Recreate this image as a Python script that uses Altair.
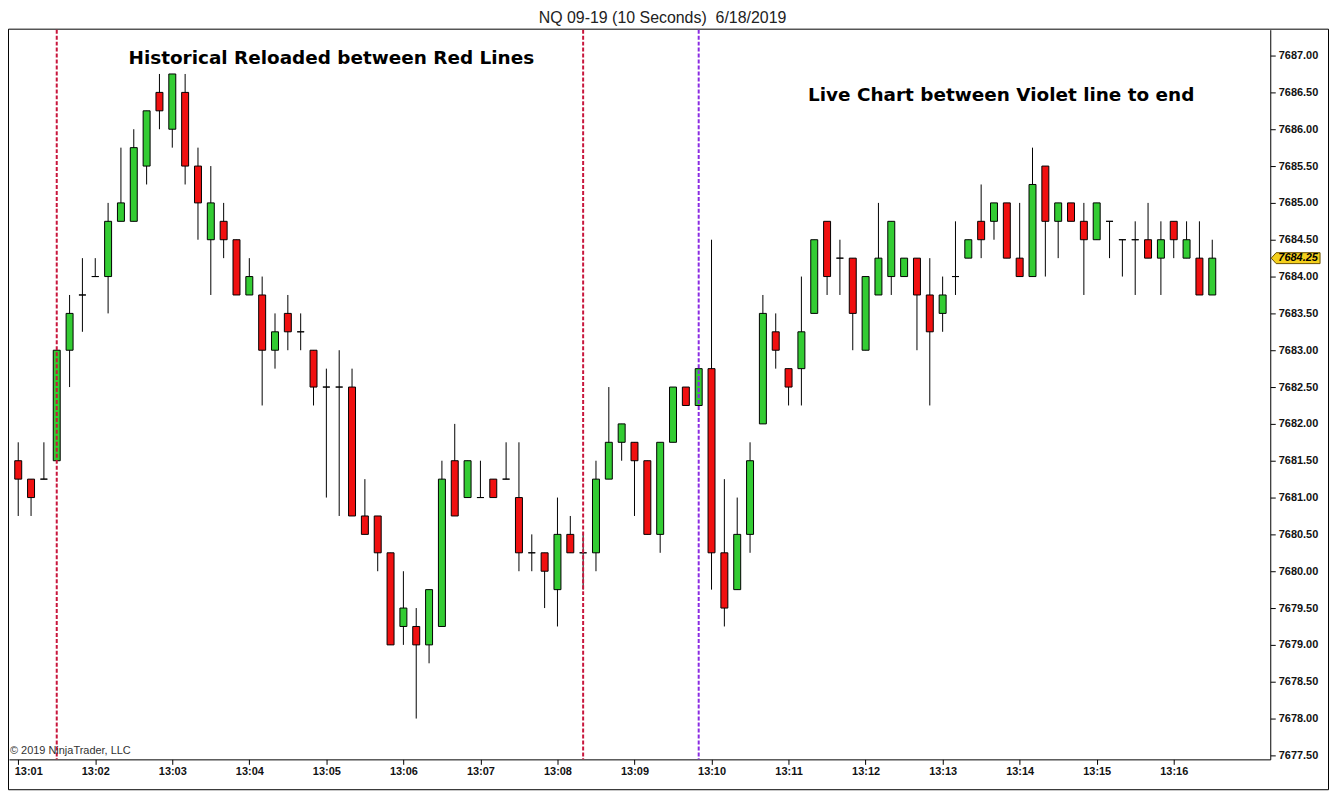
import altair as alt
import pandas as pd

# ---- data (10-second bars, NQ 09-19, 6/18/2019) ----
opens = [7681.50, 7681.25, 7681.25, 7681.50, 7683.00, 7683.75, 7684.00, 7684.00, 7684.75, 7684.75,
         7685.50, 7686.50, 7686.00, 7686.50, 7685.50, 7684.50, 7684.75, 7684.50, 7683.75, 7683.75,
         7683.00, 7683.50, 7683.25, 7683.00, 7682.50, 7682.50, 7682.50, 7680.75, 7680.75, 7680.25,
         7679.25, 7679.25, 7679.00, 7679.25, 7681.50, 7681.00, 7681.00, 7681.25, 7681.25, 7681.00,
         7680.25, 7680.25, 7679.75, 7680.50, 7680.25, 7680.25, 7681.25, 7681.75, 7681.75, 7681.50,
         7680.50, 7681.75, 7682.50, 7682.25, 7682.75, 7680.25, 7679.75, 7680.50, 7682.00, 7683.25,
         7682.75, 7682.75, 7683.50, 7684.75, 7684.25, 7684.25, 7683.00, 7683.75, 7684.00, 7684.00,
         7684.25, 7683.75, 7683.50, 7684.00, 7684.25, 7684.75, 7684.75, 7685.00, 7684.25, 7684.00,
         7685.50, 7684.75, 7685.00, 7684.75, 7684.50, 7684.75, 7684.50, 7684.50, 7684.50, 7684.25,
         7684.75, 7684.25, 7684.25, 7683.75]
highs = [7681.75, 7681.25, 7681.75, 7683.00, 7683.75, 7684.25, 7684.25, 7685.00, 7685.75, 7686.00,
         7686.25, 7686.75, 7686.75, 7686.75, 7685.75, 7685.50, 7685.00, 7684.50, 7684.25, 7684.00,
         7683.50, 7683.75, 7683.50, 7683.00, 7682.75, 7683.00, 7682.75, 7681.25, 7680.75, 7680.25,
         7680.00, 7679.50, 7679.75, 7681.50, 7682.00, 7681.50, 7681.50, 7681.25, 7681.75, 7681.75,
         7680.50, 7680.25, 7681.00, 7680.75, 7680.50, 7681.50, 7682.50, 7682.00, 7681.75, 7681.50,
         7681.75, 7682.50, 7682.50, 7682.75, 7684.50, 7681.25, 7681.00, 7681.75, 7683.75, 7683.50,
         7682.75, 7684.00, 7684.50, 7684.75, 7684.50, 7684.25, 7684.00, 7685.00, 7684.75, 7684.25,
         7684.25, 7684.25, 7684.00, 7684.75, 7684.50, 7685.25, 7685.00, 7685.00, 7685.00, 7685.75,
         7685.50, 7685.00, 7685.00, 7685.00, 7685.00, 7684.75, 7684.50, 7684.75, 7685.00, 7684.75,
         7684.75, 7684.75, 7684.75, 7684.50]
lows = [7680.75, 7680.75, 7681.25, 7681.50, 7682.50, 7683.25, 7684.00, 7683.50, 7684.75, 7684.75,
        7685.25, 7686.00, 7685.75, 7685.25, 7684.50, 7683.75, 7684.25, 7683.75, 7683.75, 7682.25,
        7682.75, 7683.00, 7683.00, 7682.25, 7681.00, 7680.75, 7680.75, 7680.50, 7680.00, 7679.00,
        7679.00, 7678.00, 7678.75, 7679.25, 7680.75, 7681.00, 7681.00, 7681.00, 7681.25, 7680.00,
        7680.00, 7679.50, 7679.25, 7680.25, 7679.75, 7680.00, 7681.25, 7681.50, 7680.75, 7680.50,
        7680.25, 7681.75, 7682.25, 7682.25, 7679.75, 7679.25, 7679.75, 7680.25, 7682.00, 7682.75,
        7682.25, 7682.25, 7683.50, 7683.75, 7683.75, 7683.00, 7683.00, 7683.75, 7683.75, 7684.00,
        7683.00, 7682.25, 7683.25, 7683.75, 7684.25, 7684.25, 7684.50, 7684.25, 7684.00, 7684.00,
        7684.00, 7684.25, 7684.75, 7683.75, 7684.50, 7684.25, 7684.00, 7683.75, 7684.25, 7683.75,
        7684.25, 7684.25, 7683.75, 7683.75]
closes = [7681.25, 7681.00, 7681.25, 7683.00, 7683.50, 7683.75, 7684.00, 7684.75, 7685.00, 7685.75,
          7686.25, 7686.25, 7686.75, 7685.50, 7685.00, 7685.00, 7684.50, 7683.75, 7684.00, 7683.00,
          7683.25, 7683.25, 7683.25, 7682.50, 7682.50, 7682.50, 7680.75, 7680.50, 7680.25, 7679.00,
          7679.50, 7679.00, 7679.75, 7681.25, 7680.75, 7681.50, 7681.00, 7681.00, 7681.25, 7680.25,
          7680.25, 7680.00, 7680.50, 7680.25, 7680.25, 7681.25, 7681.75, 7682.00, 7681.50, 7680.50,
          7681.75, 7682.50, 7682.25, 7682.75, 7680.25, 7679.50, 7680.50, 7681.50, 7683.50, 7683.00,
          7682.50, 7683.25, 7684.50, 7684.00, 7684.25, 7683.50, 7684.00, 7684.25, 7684.75, 7684.25,
          7683.75, 7683.25, 7683.75, 7684.00, 7684.50, 7684.50, 7685.00, 7684.25, 7684.00, 7685.25,
          7684.75, 7685.00, 7684.75, 7684.50, 7685.00, 7684.75, 7684.50, 7684.50, 7684.25, 7684.50,
          7684.50, 7684.50, 7683.75, 7684.25]

bar_times = pd.date_range("2019-06-18 13:01:00", periods=len(opens), freq="10s").strftime("%Y-%m-%dT%H:%M:%S").tolist()

red_line_times = ["2019-06-18T13:01:30", "2019-06-18T13:08:20"]
violet_line_times = ["2019-06-18T13:09:50"]

price_ticks = [7677.5, 7678.0, 7678.5, 7679.0, 7679.5, 7680.0, 7680.5, 7681.0, 7681.5, 7682.0,
               7682.5, 7683.0, 7683.5, 7684.0, 7684.5, 7685.0, 7685.5, 7686.0, 7686.5, 7687.0]
minute_ticks = list(range(1, 17))  # 13:01 ... 13:16

notes = ["Historical Reloaded between Red Lines", "Live Chart between Violet line to end"]
note_times = ["2019-06-18T13:02:25.900", "2019-06-18T13:11:15.200"]
note_prices = [7686.96, 7686.46]

title_text = "NQ 09-19 (10 Seconds)\u00a0 6/18/2019"
copyright_text = "\u00a9 2019 NinjaTrader, LLC"

GREEN = "#33CC33"
RED = "#F01010"
FONT = "Liberation Sans"

df = pd.DataFrame({"time": bar_times, "open": opens, "high": highs, "low": lows, "close": closes})
lines_df = pd.DataFrame({
    "time": red_line_times + violet_line_times,
    "color": ["#C8163C"] * len(red_line_times) + ["#8A2BE2"] * len(violet_line_times),
})
notes_df = pd.DataFrame({"text": notes, "time": note_times, "price": note_prices})
last_df = df.tail(1)
one = pd.DataFrame({"k": [0]})

x_scale = alt.Scale(
    domain=[alt.DateTime(year=2019, month=6, date=18, hours=13, minutes=0, seconds=56, milliseconds=690),
            alt.DateTime(year=2019, month=6, date=18, hours=13, minutes=17, seconds=11, milliseconds=310)],
    nice=False,
)
y_scale = alt.Scale(domain=[7677.4459, 7687.3514], zero=False, nice=False)

x_axis = alt.Axis(
    values=[alt.DateTime(year=2019, month=6, date=18, hours=13, minutes=m) for m in minute_ticks],
    format="%H:%M", title=None, grid=False, orient="bottom",
    tickSize=5, labelPadding=1, labelFont=FONT, labelFontSize=11, labelFontWeight="bold",
    labelColor="#111", domainColor="#000", tickColor="#000",
    labelFlush=10, labelFlushOffset=4,
)
y_axis = alt.Axis(
    values=price_ticks, format=".2f", title=None, grid=False, orient="right",
    tickSize=5, labelPadding=3, labelFont=FONT, labelFontSize=11, labelFontWeight="bold",
    labelColor="#111", domainColor="#000", tickColor="#000",
)


def X():
    return alt.X("time:T", scale=x_scale, axis=x_axis)


def Y(field):
    return alt.Y(field, scale=y_scale, axis=y_axis)


frame = alt.Chart(one).mark_rect(fill=None, stroke="#000", strokeWidth=1).encode(
    x=alt.value(-0.5), x2=alt.value(1325.5), y=alt.value(-0.5), y2=alt.value(763.5)
)

wicks = alt.Chart(df).mark_rule(color="#000", strokeWidth=1).encode(
    x=X(), y=Y("low:Q"), y2="high:Q",
)

bodies = alt.Chart(df).mark_bar(size=7, stroke="#000", strokeWidth=1).encode(
    x=X(), y=Y("open:Q"), y2="close:Q",
    color=alt.condition("datum.close >= datum.open", alt.value(GREEN), alt.value(RED)),
)

vlines = alt.Chart(lines_df).mark_rule(strokeDash=[4, 2], strokeWidth=2).encode(
    x=X(), color=alt.Color("color:N", scale=None),
)

note_text = alt.Chart(notes_df).mark_text(
    font="DejaVu Sans", fontSize=18.5, fontWeight="bold", align="left", baseline="middle", color="#000"
).encode(x=X(), y=Y("price:Q"), text="text:N")

title = alt.Chart(one).mark_text(
    font=FONT, fontSize=16, align="center", baseline="middle", color="#222", text=title_text
).encode(x=alt.value(656.5), y=alt.value(-11.5))

copyright = alt.Chart(one).mark_text(
    font=FONT, fontSize=11, align="left", baseline="middle", color="#333", text=copyright_text
).encode(x=alt.value(1), y=alt.value(725))

arrow_shape = "M -1 0 L -0.8 -0.224 L 1 -0.224 L 1 0.224 L -0.8 0.224 Z"
marker = alt.Chart(last_df).mark_point(
    shape=arrow_shape, size=2401, filled=True, color="#F4CF1C", stroke="#6B5200", strokeWidth=1, opacity=1
).encode(x=alt.value(1292.5), y=Y("close:Q"))

marker_text = alt.Chart(last_df).mark_text(
    font=FONT, fontSize=11, fontStyle="italic", fontWeight="bold", align="center", baseline="middle", color="#000"
).encode(
    x=alt.value(1295), y=Y("close:Q"),
    text=alt.Text("close:Q", format=".2f"),
)

chart = alt.layer(
    frame, wicks, bodies, vlines, note_text, title, copyright, marker, marker_text
).properties(
    width=1267, height=733,
    padding={"left": 1, "top": 20, "right": 59, "bottom": 31},
    autosize=alt.AutoSizeParams(type="none"),
    background="white",
).configure_view(stroke=None)

chart.save("out.html", embed_options={"renderer": "svg", "actions": False})
